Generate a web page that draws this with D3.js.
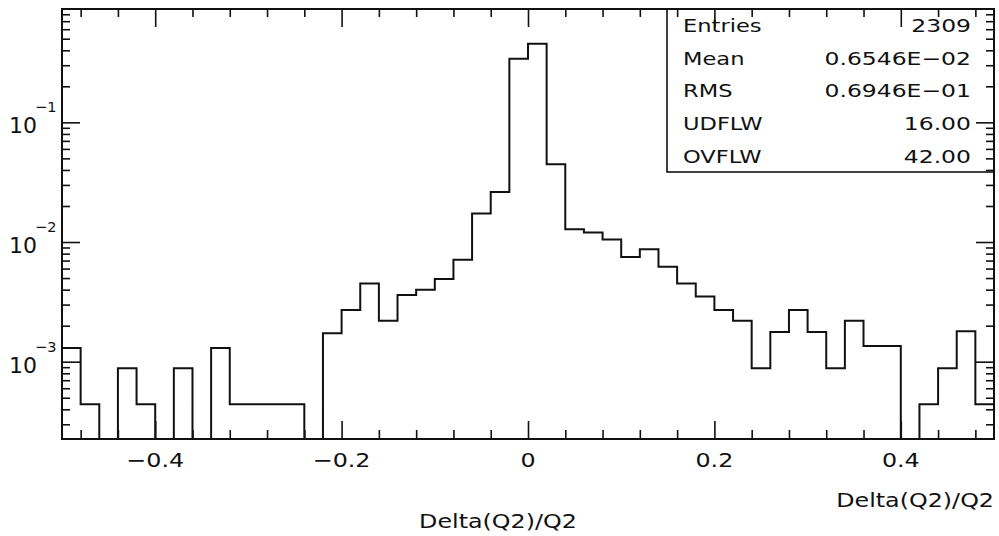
<!DOCTYPE html>
<html><head><meta charset="utf-8">
<script src="https://cdn.jsdelivr.net/npm/d3@7"></script>
<style>html,body{margin:0;padding:0;background:#fff;} svg{display:block;}</style>
</head><body>
<svg id="c" width="999" height="536"></svg>
<script>
// ---- data ----
const binEdges = [-0.50,-0.48,-0.46,-0.44,-0.42,-0.40,-0.38,-0.36,-0.34,-0.32,
  -0.30,-0.28,-0.26,-0.24,-0.22,-0.20,-0.18,-0.16,-0.14,-0.12,
  -0.10,-0.08,-0.06,-0.04,-0.02,0.00,0.02,0.04,0.06,0.08,
  0.10,0.12,0.14,0.16,0.18,0.20,0.22,0.24,0.26,0.28,
  0.30,0.32,0.34,0.36,0.38,0.40,0.42,0.44,0.46,0.48,0.50];
const binValues = [0.0013,0.00044,0,0.00088,0.00044,0,0.00088,0,0.0013,0.00044,
  0.00044,0.00044,0.00044,0,0.00173,0.0027,0.0045,0.0022,0.0036,0.0040,
  0.0049,0.0071,0.0173,0.0262,0.34,0.454,0.0447,0.0128,0.0120,0.0105,
  0.0075,0.0087,0.0062,0.0045,0.0035,0.0027,0.0022,0.00088,0.00177,0.0027,
  0.00177,0.00088,0.0022,0.00135,0.00135,0,0.00044,0.00088,0.0018,0.00044];
const xTickMajor = [-0.4,-0.2,0,0.2,0.4];
const xTickLabels = ["\u22120.4","\u22120.2","0","0.2","0.4"];
const yTickMajor = [1e-1,1e-2,1e-3];
const yTickExp = ["\u22121","\u22122","\u22123"];
const statsLabels = ["Entries","Mean","RMS","UDFLW","OVFLW"];
const statsValues = ["2309","0.6546E\u221202","0.6946E\u221201","16.00","42.00"];
const xTitle = "Delta(Q2)/Q2";

// ---- layout ----
const L=62, R=994, T=9, B=439;
const svg = d3.select("#c");
const x = d3.scaleLinear().domain([-0.5,0.5]).range([L,R]);
const y = d3.scaleLog().domain([2.26e-4,0.885]).range([B,T]);
const ink = "#111";
const FONT = "DejaVu Sans, sans-serif";

function txt(str, px, py, size, anchor, sx){
  return svg.append("text")
    .attr("transform", `translate(${px},${py}) scale(${sx},1)`)
    .attr("text-anchor", anchor)
    .attr("font-family", FONT)
    .attr("font-size", size)
    .attr("fill", ink)
    .text(str);
}

// histogram outline
const yv = v => v > 0 ? y(v) : B;
const pts = [[x(binEdges[0]), B]];
binValues.forEach((v,i) => {
  pts.push([x(binEdges[i]), yv(v)]);
  pts.push([x(binEdges[i+1]), yv(v)]);
});
pts.push([x(binEdges[binEdges.length-1]), B]);
svg.append("path").attr("d", d3.line()(pts))
  .attr("fill","none").attr("stroke",ink).attr("stroke-width",2).attr("stroke-linejoin","miter");

// stats box
const box = svg.append("g");
box.append("rect").attr("x",667).attr("y",T).attr("width",R-667).attr("height",172-T)
  .attr("fill","#fff").attr("stroke",ink).attr("stroke-width",1.6);
const rowH = (172-T)/statsLabels.length;
statsLabels.forEach((s,i) => {
  const by = T + rowH*(i+0.5) + 6.8;
  txt(s, 683, by, 18.5, "start", 1.22);
  txt(statsValues[i], 971, by, 18.5, "end", 1.27);
});

// x ticks (minor every 0.04, major every 0.2)
const xMinor = d3.range(-12,13).map(k => k*0.04).filter(v => v > -0.5 && v < 0.5 && !xTickMajor.some(m => Math.abs(m-v) < 1e-9));
const tickStyle = g => { g.select(".domain").remove(); g.selectAll("line").attr("stroke",ink).attr("stroke-width",1.6); g.selectAll("text").remove(); };
svg.append("g").attr("transform",`translate(0,${B})`).call(d3.axisBottom(x).tickValues(xTickMajor).tickSize(-18).tickFormat("")).call(tickStyle);
svg.append("g").attr("transform",`translate(0,${B})`).call(d3.axisBottom(x).tickValues(xMinor).tickSize(-9).tickFormat("")).call(tickStyle);
svg.append("g").attr("transform",`translate(0,${T})`).call(d3.axisTop(x).tickValues(xTickMajor).tickSize(-18).tickFormat("")).call(tickStyle);
svg.append("g").attr("transform",`translate(0,${T})`).call(d3.axisTop(x).tickValues(xMinor).tickSize(-8).tickFormat("")).call(tickStyle);

// y ticks (log)
const [ymin, ymax] = y.domain();
const yMinor = [];
for (let e=-4; e<=0; e++) for (let k=2; k<=9; k++) { const v = k*Math.pow(10,e); if (v>ymin && v<ymax) yMinor.push(v); }
svg.append("g").attr("transform",`translate(${L},0)`).call(d3.axisLeft(y).tickValues(yTickMajor).tickSize(-18).tickFormat("")).call(tickStyle);
svg.append("g").attr("transform",`translate(${L},0)`).call(d3.axisLeft(y).tickValues(yMinor).tickSize(-8).tickFormat("")).call(tickStyle);
svg.append("g").attr("transform",`translate(${R},0)`).call(d3.axisRight(y).tickValues(yTickMajor).tickSize(-18).tickFormat("")).call(tickStyle);
svg.append("g").attr("transform",`translate(${R},0)`).call(d3.axisRight(y).tickValues(yMinor).tickSize(-8).tickFormat("")).call(tickStyle);

// frame
svg.append("rect").attr("x",L).attr("y",T).attr("width",R-L).attr("height",B-T)
  .attr("fill","none").attr("stroke",ink).attr("stroke-width",2);

// x tick labels
xTickMajor.forEach((v,i) => txt(xTickLabels[i], x(v), 467, 19.5, "middle", 1.22));
// y tick labels
yTickMajor.forEach((v,i) => {
  txt("10", 37, y(v)+11, 22, "end", 1.0);
  txt(yTickExp[i], 35, y(v)-10, 14.5, "start", 1.0);
});
// axis titles
txt(xTitle, R, 507, 19.5, "end", 1.22);
txt(xTitle, 498, 528, 19.5, "middle", 1.22);
</script>
</body></html>
